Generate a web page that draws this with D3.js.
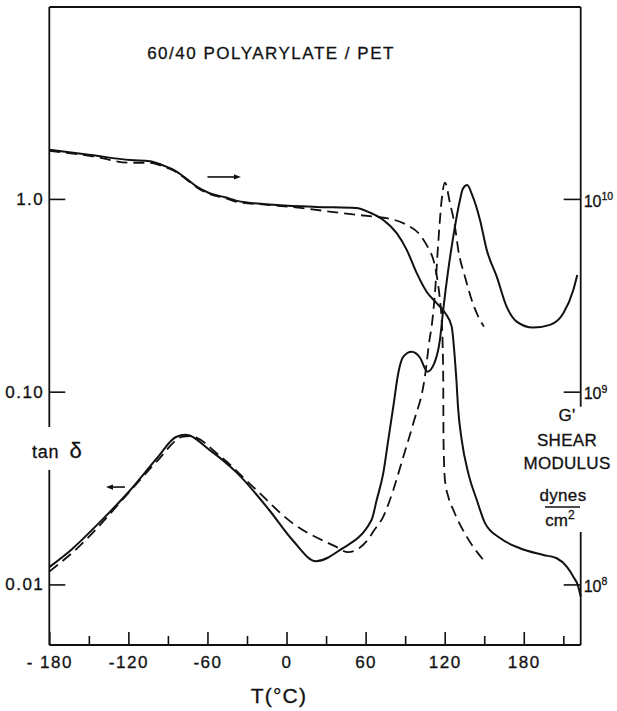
<!DOCTYPE html>
<html>
<head>
<meta charset="utf-8">
<script src="https://cdn.jsdelivr.net/npm/d3@7"></script>
<style>
  body { margin: 0; background: #fff; }
  svg { display: block; }
  text { stroke: #111; stroke-width: 0.3px; }
</style>
</head>
<body>
<svg id="chart"></svg>
<script>
//Temperature (C) and value pairs
//G' shear modulus, dynes/cm2
const gSolid = [
  [-180, 1.80e10], [-148.4, 1.69e10], [-118.5, 1.59e10], [-103.6, 1.57e10],
  [-94.5, 1.50e10], [-85.4, 1.41e10], [-76.4, 1.28e10], [-67.5, 1.15e10],
  [-58.4, 1.07e10], [-46.7, 1.02e10], [-37.6, 0.977e10], [-7.2, 0.93e10],
  [22.4, 0.909e10], [52.7, 0.898e10], [63.3, 0.849e10], [73.4, 0.778e10],
  [83.6, 0.664e10], [91.2, 0.544e10], [98.8, 0.412e10], [106.3, 0.330e10],
  [113.9, 0.288e10], [120.2, 0.257e10], [125.3, 0.2175e10], [127.8, 0.146e10],
  [128.9, 0.115e10], [130.1, 0.0834e10], [132.9, 0.0562e10], [137.9, 0.0378e10],
  [144.3, 0.0275e10], [150.6, 0.0208e10], [162.0, 0.0174e10], [177.1, 0.0154e10],
  [194.8, 0.01422e10], [205.0, 0.01367e10], [212.6, 0.01236e10], [217.6, 0.01097e10],
  [221.4, 0.00974e10], [223.2, 0.00865e10],
];

const gDashed = [
  [-180, 1.775e10], [-148.4, 1.67e10], [-118.5, 1.54e10], [-103.6, 1.54e10],
  [-94.5, 1.48e10], [-85.4, 1.40e10], [-76.4, 1.27e10], [-67.5, 1.14e10],
  [-58.4, 1.06e10], [-46.7, 1.01e10], [-37.6, 0.965e10], [-12.5, 0.93e10],
  [10.5, 0.898e10], [40.6, 0.846e10], [67.5, 0.807e10], [76.0, 0.794e10],
  [91.2, 0.733e10], [101.3, 0.650e10], [107.6, 0.555e10], [111.4, 0.483e10],
  [113.9, 0.403e10], [116.4, 0.299e10], [117.7, 0.236e10], [118.5, 0.171e10],
  [118.9, 0.115e10], [119.1, 0.0562e10], [120.2, 0.0348e10], [122.7, 0.0286e10],
  [126.5, 0.0244e10], [136.7, 0.0177e10], [149.3, 0.0134e10],
];

//tan delta
const tanSolid = [
  [-180, 0.0123], [-163.5, 0.0151], [-142.4, 0.0208], [-118.5, 0.0309],
  [-97.5, 0.0459], [-83.9, 0.0582], [-76.4, 0.0597], [-58.5, 0.0499],
  [-37.6, 0.0379], [-13.3, 0.0244], [4.5, 0.0170], [22.4, 0.0132],
  [40.6, 0.0151], [64.5, 0.0216], [68.4, 0.0274], [73.4, 0.0378],
  [77.2, 0.0562], [81.0, 0.0836], [84.8, 0.125], [88.6, 0.152],
  [95.0, 0.161], [101.3, 0.150], [106.8, 0.127], [112.4, 0.142],
  [116.4, 0.186], [118.9, 0.266], [122.7, 0.428], [126.5, 0.637],
  [131.6, 0.988], [133.8, 1.13], [137.1, 1.18], [140.6, 1.06],
  [146.8, 0.778], [151.9, 0.544], [159.5, 0.395], [167.0, 0.276],
  [174.6, 0.231], [187.2, 0.215], [199.9, 0.222], [210.0, 0.255],
  [217.6, 0.337], [220.6, 0.403],
];

const tanDashed = [
  [-180, 0.01165], [-157.5, 0.0157], [-118.5, 0.0306], [-97.5, 0.0442],
  [-79.5, 0.0582], [-73.5, 0.0589], [-49.7, 0.0459], [-25.4, 0.0321],
  [4.5, 0.0208], [37.5, 0.0157], [46.6, 0.0147], [61.5, 0.0170],
  [65.8, 0.0188], [73.4, 0.0225], [81.0, 0.0309], [88.6, 0.046],
  [96.2, 0.0686], [105.1, 0.121], [108.5, 0.186], [110.1, 0.218],
  [112.6, 0.324], [115.1, 0.589], [117.7, 0.988], [120.2, 1.215],
  [124.0, 0.953], [127.8, 0.718], [130.3, 0.544], [135.4, 0.395],
  [140.5, 0.299], [145.5, 0.245], [149.8, 0.2175],
];

//Axes
const tempDomain = [-180, 223.2];
const tanDomain = [0.00485, 9.9];
const gDomain = [4.85e7, 9.9e10];
const majorTicks = [-180, -120, -60, 0, 60, 120, 180];
const xTickLabels = ['- 180', '-120', '-60', '0', '60', '120', '180'];
const minorTicks = [-150, -90, -30, 30, 90, 150, 210];
const tanTicks = [1, 0.1, 0.01];
const tanTickLabels = ['1.0', '0.10', '0.01'];
const gTicks = [1e10, 1e9, 1e8];

//Arrows pointing to the axis each family belongs to: [fromT, toT, value]
const gArrow = [-60, -34.6, 1.3e10];
const tanArrow = [-122.6, -137, 0.032];

//Gaps left in the frame for the axis titles (in axis units)
const leftGap = [0.0393, 0.0656];
const rightGap = [1.87e8, 8.34e8];

//Set up svg
const width = 617;
const height = 711;
const margin = { top: 7, right: 36.3, bottom: 66, left: 49.3 };
const x0 = margin.left;
const x1 = width - margin.right;
const y0 = margin.top;
const y1 = height - margin.bottom;
const font = "'Liberation Sans', Arial, sans-serif";

const xScale = d3.scaleLinear().domain(tempDomain).range([x0, x1]);
const tanScale = d3.scaleLog().domain(tanDomain).range([y1, y0]);
const gScale = d3.scaleLog().domain(gDomain).range([y1, y0]);

const svg = d3
  .select('#chart')
  .attr('width', width)
  .attr('height', height)
  .attr('font-family', font);

svg.append('rect').attr('width', width).attr('height', height).attr('fill', '#fff');

//Frame, with breaks on both sides
const frame = svg.append('g').attr('stroke', '#111').attr('stroke-width', 1.8).attr('fill', 'none');
const frameLines = [
  [x0, y0, x1, y0],
  [x0, y1, x1, y1],
  [x0, y0, x0, tanScale(leftGap[1])],
  [x0, tanScale(leftGap[0]), x0, y1],
  [x1, y0, x1, gScale(rightGap[1])],
  [x1, gScale(rightGap[0]), x1, y1],
];
frame
  .selectAll('line')
  .data(frameLines)
  .join('line')
  .attr('x1', (d) => d[0])
  .attr('y1', (d) => d[1])
  .attr('x2', (d) => d[2])
  .attr('y2', (d) => d[3]);

//Bottom axis: short ticks every 30, long ticks and labels every 60
svg
  .append('g')
  .attr('transform', `translate(0,${y1})`)
  .call(d3.axisBottom(xScale).tickValues(minorTicks).tickSizeInner(-9).tickSizeOuter(0).tickFormat(''))
  .call((g) => g.select('.domain').remove())
  .call((g) => g.selectAll('line').attr('stroke', '#111').attr('stroke-width', 1.6));

svg
  .append('g')
  .attr('transform', `translate(0,${y1})`)
  .call(
    d3
      .axisBottom(xScale)
      .tickValues(majorTicks)
      .tickSizeInner(-13)
      .tickSizeOuter(0)
      .tickPadding(11)
      .tickFormat((d, i) => xTickLabels[i])
  )
  .attr('font-family', font)
  .attr('font-size', 17)
  .call((g) => g.select('.domain').remove())
  .call((g) => g.selectAll('line').attr('stroke', '#111').attr('stroke-width', 1.6))
  .call((g) => g.selectAll('text').attr('fill', '#111').attr('letter-spacing', 1.5));

//Left axis: tan delta
svg
  .append('g')
  .attr('transform', `translate(${x0},0)`)
  .call(
    d3
      .axisLeft(tanScale)
      .tickValues(tanTicks)
      .tickSizeInner(-16)
      .tickSizeOuter(0)
      .tickPadding(5)
      .tickFormat((d, i) => tanTickLabels[i])
  )
  .attr('font-family', font)
  .attr('font-size', 17)
  .call((g) => g.select('.domain').remove())
  .call((g) => g.selectAll('line').attr('stroke', '#111').attr('stroke-width', 1.6))
  .call((g) => g.selectAll('text').attr('fill', '#111').attr('letter-spacing', 1.5));

//Right axis: G', labels as powers of ten
const rightAxis = svg
  .append('g')
  .attr('transform', `translate(${x1},0)`)
  .call(d3.axisRight(gScale).tickValues(gTicks).tickSizeInner(-17).tickSizeOuter(0).tickPadding(3).tickFormat(''))
  .attr('font-family', font)
  .attr('font-size', 16)
  .call((g) => g.select('.domain').remove())
  .call((g) => g.selectAll('line').attr('stroke', '#111').attr('stroke-width', 1.6));

rightAxis.selectAll('.tick text').each(function (d) {
  const t = d3.select(this).attr('fill', '#111').attr('dy', '0.45em');
  t.append('tspan').text('10');
  t.append('tspan').attr('dy', '-0.65em').attr('font-size', 10.5).text(Math.round(Math.log10(d)));
});

//Curves
const gLine = d3
  .line()
  .x((d) => xScale(d[0]))
  .y((d) => gScale(d[1]))
  .curve(d3.curveMonotoneX);

const tanLine = d3
  .line()
  .x((d) => xScale(d[0]))
  .y((d) => tanScale(d[1]))
  .curve(d3.curveMonotoneX);

const curves = [
  { data: gSolid, line: gLine, dash: null },
  { data: gDashed, line: gLine, dash: '11,6' },
  { data: tanSolid, line: tanLine, dash: null },
  { data: tanDashed, line: tanLine, dash: '11,6' },
];

svg
  .append('g')
  .selectAll('path')
  .data(curves)
  .join('path')
  .attr('fill', 'none')
  .attr('stroke', '#111')
  .attr('stroke-width', (d) => (d.dash ? 1.8 : 2))
  .attr('stroke-dasharray', (d) => d.dash)
  .attr('stroke-linejoin', 'round')
  .attr('d', (d) => d.line(d.data));

//Arrows
const drawArrow = (xa, xb, y) => {
  const dir = Math.sign(xb - xa);
  svg
    .append('line')
    .attr('x1', xa)
    .attr('y1', y)
    .attr('x2', xb - dir * 5)
    .attr('y2', y)
    .attr('stroke', '#111')
    .attr('stroke-width', 1.6);
  svg
    .append('path')
    .attr('d', `M${xb},${y} L${xb - dir * 7},${y - 2.6} L${xb - dir * 7},${y + 2.6} Z`)
    .attr('fill', '#111');
};
drawArrow(xScale(gArrow[0]), xScale(gArrow[1]), gScale(gArrow[2]));
drawArrow(xScale(tanArrow[0]), xScale(tanArrow[1]), tanScale(tanArrow[2]));

//Texts
svg
  .append('text')
  .attr('x', 271)
  .attr('y', 59)
  .attr('text-anchor', 'middle')
  .attr('font-size', 17)
  .attr('letter-spacing', 1.5)
  .attr('fill', '#111')
  .text('60/40  POLYARYLATE / PET');

svg
  .append('text')
  .attr('x', 279)
  .attr('y', 703)
  .attr('text-anchor', 'middle')
  .attr('font-size', 21)
  .attr('letter-spacing', 1.2)
  .attr('fill', '#111')
  .text('T(°C)');

const tanLabel = svg.append('text').attr('x', 32).attr('y', 458).attr('fill', '#111');
tanLabel.append('tspan').attr('font-size', 18).attr('letter-spacing', 0.8).text('tan');
tanLabel.append('tspan').attr('font-size', 22).attr('dx', 10).text('δ');

const rightLabels = [
  { text: "G'", x: 567, y: 421 },
  { text: 'SHEAR', x: 567, y: 446 },
  { text: 'MODULUS', x: 567, y: 469 },
  { text: 'dynes', x: 563, y: 501 },
];
svg
  .append('g')
  .selectAll('text')
  .data(rightLabels)
  .join('text')
  .attr('x', (d) => d.x)
  .attr('y', (d) => d.y)
  .attr('text-anchor', 'middle')
  .attr('font-size', 17)
  .attr('letter-spacing', 0.3)
  .attr('fill', '#111')
  .text((d) => d.text);

svg
  .append('line')
  .attr('x1', 545)
  .attr('x2', 580)
  .attr('y1', 507)
  .attr('y2', 507)
  .attr('stroke', '#111')
  .attr('stroke-width', 1.4);

const cm = svg
  .append('text')
  .attr('x', 560)
  .attr('y', 526)
  .attr('text-anchor', 'middle')
  .attr('font-size', 17)
  .attr('fill', '#111');
cm.append('tspan').text('cm');
cm.append('tspan').attr('dy', '-0.55em').attr('font-size', 12).text('2');
</script>
</body>
</html>
